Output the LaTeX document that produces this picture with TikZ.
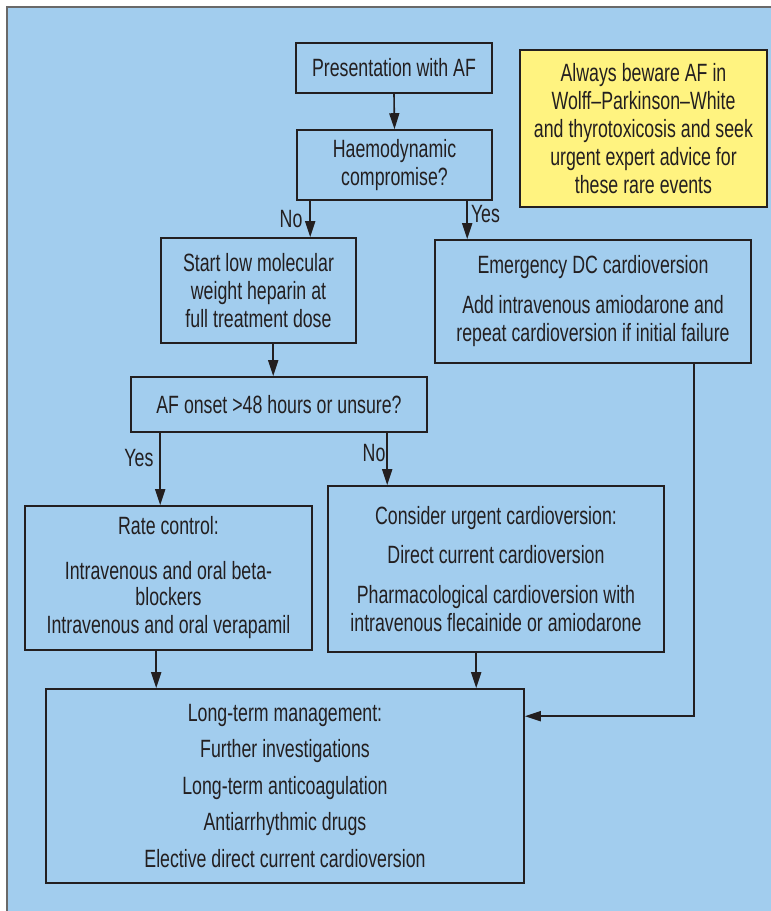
\documentclass[tikz,border=0pt]{standalone}
\usepackage{fontspec}
\setmainfont{Liberation Sans}[FakeStretch=0.71]
\usetikzlibrary{arrows.meta, positioning}

\definecolor{panelblue}{RGB}{162,205,238}
\definecolor{noteyellow}{RGB}{255,243,128}
\definecolor{lineink}{RGB}{35,31,32}
\definecolor{framegray}{RGB}{105,105,105}

\begin{document}
\begin{tikzpicture}[x=1pt,y=-1pt,
  every node/.style={font=\fontsize{25}{28}\selectfont, text=lineink},
  box/.style={draw=lineink, line width=1.6pt, inner sep=0pt, align=center},
  arr/.style={draw=lineink, line width=1.6pt, -{Triangle[length=16pt,width=10pt]}},
  lbl/.style={inner sep=3pt}]
\useasboundingbox (0,0) rectangle (771,911);
\fill[panelblue] (7,7) rectangle (771,911);
\draw[framegray, line width=1.6pt] (7,911) -- (7,7) -- (771,7);

% boxes
\node[box, minimum width=196, minimum height=50] (present) at (394,68) {Presentation with AF};
\node[box, minimum width=195, minimum height=70] (haemo) at (394.5,165) {Haemodynamic\\compromise?};
\node[box, minimum width=195, minimum height=105] (lmwh) at (258.5,290.5)
  {Start low molecular\\weight heparin at\\full treatment dose};
\node[box, minimum width=296, minimum height=55] (onset) at (279,404.5) {AF onset >48 hours or unsure?};
\node[box, minimum width=316, minimum height=123] (emerg) at (593,301.5)
  {Emergency DC cardioversion\\[12pt]Add intravenous amiodarone and\\repeat cardioversion if initial failure};
\node[box, minimum width=287, minimum height=144] (rate) at (168.5,578)
  {Rate control:\\[17pt]Intravenous and oral beta-\\[-2pt]blockers\\Intravenous and oral verapamil};
\node[box, minimum width=336, minimum height=166] (consider) at (496,569)
  {Consider urgent cardioversion:\\[11pt]Direct current cardioversion\\[12pt]Pharmacological cardioversion with\\intravenous flecainide or amiodarone};
\node[box, minimum width=478, minimum height=194] (longterm) at (285,786)
  {Long-term management:\\[8.5pt]Further investigations\\[8.5pt]Long-term anticoagulation\\[8.5pt]Antiarrhythmic drugs\\[8.5pt]Elective direct current cardioversion};
\node[box, fill=noteyellow, minimum width=247, minimum height=157] (note) at (643.5,128.5)
  {Always beware AF in\\Wolff--Parkinson--White\\and thyrotoxicosis and seek\\urgent expert advice for\\these rare events};

% connectors
\draw[arr] (present.south) -- (haemo.north);
\draw[arr] ([xshift=14pt]haemo.south west) -- node[lbl, left, inner sep=7pt] {No} ([xshift=14pt]haemo.south west |- lmwh.north);
\draw[arr] ([xshift=171pt]haemo.south west) -- node[lbl, right, pos=0.35] {Yes} ([xshift=171pt]haemo.south west |- emerg.north);
\draw[arr] ([xshift=113pt]lmwh.south west) -- ([xshift=113pt]lmwh.south west |- onset.north);
\draw[arr] ([xshift=30pt]onset.south west) -- node[lbl, left, pos=0.35, inner sep=6pt] {Yes} ([xshift=30pt]onset.south west |- rate.north);
\draw[arr] ([xshift=257pt]onset.south west) -- node[lbl, left, pos=0.38, inner sep=1pt] {No} ([xshift=257pt]onset.south west |- consider.north);
\draw[arr] ([xshift=132pt]rate.south west) -- ([xshift=132pt]rate.south west |- longterm.north);
\draw[arr] ([xshift=149pt]consider.south west) -- ([xshift=149pt]consider.south west |- longterm.north);
\draw[arr] ([xshift=260pt]emerg.south west) |- ([yshift=-28pt]longterm.north east);
\end{tikzpicture}
\end{document}
